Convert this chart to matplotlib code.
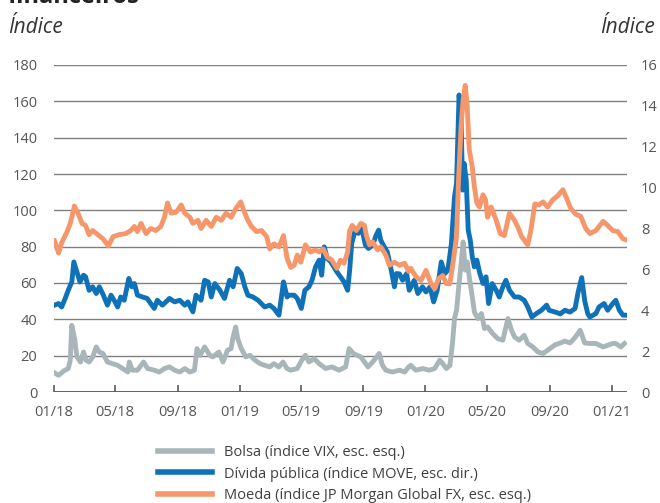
import matplotlib
matplotlib.use('Agg')
import matplotlib.pyplot as plt
import matplotlib.dates as mdates
from matplotlib.lines import Line2D
import pandas as pd

plt.rcParams['font.family'] = ['Open Sans', 'DejaVu Sans']

# Bolsa: VIX (left scale)
vix_dates = [
    '2018-01-02', '2018-01-10', '2018-01-20', '2018-01-29', '2018-02-02', '2018-02-05', '2018-02-11',
    '2018-02-15', '2018-02-22', '2018-02-28', '2018-03-05', '2018-03-11', '2018-03-18', '2018-03-25',
    '2018-03-31', '2018-04-07', '2018-04-16', '2018-04-26', '2018-05-06', '2018-05-16', '2018-05-26',
    '2018-05-29', '2018-06-04', '2018-06-14', '2018-06-26', '2018-07-04', '2018-07-17', '2018-07-27',
    '2018-08-06', '2018-08-16', '2018-08-26', '2018-09-05', '2018-09-15', '2018-09-25', '2018-10-04',
    '2018-10-09', '2018-10-15', '2018-10-24', '2018-11-03', '2018-11-09', '2018-11-21', '2018-11-29',
    '2018-12-08', '2018-12-15', '2018-12-19', '2018-12-24', '2018-12-28', '2019-01-04', '2019-01-13',
    '2019-01-21', '2019-01-31', '2019-02-10', '2019-02-19', '2019-03-01', '2019-03-09', '2019-03-19',
    '2019-03-27', '2019-04-04', '2019-04-11', '2019-04-24', '2019-05-03', '2019-05-10', '2019-05-17',
    '2019-05-27', '2019-06-06', '2019-06-19', '2019-07-01', '2019-07-15', '2019-07-28', '2019-08-04',
    '2019-08-12', '2019-08-20', '2019-08-27', '2019-09-03', '2019-09-10', '2019-09-19', '2019-09-27',
    '2019-10-02', '2019-10-08', '2019-10-15', '2019-10-28', '2019-11-11', '2019-11-21', '2019-11-29',
    '2019-12-03', '2019-12-13', '2019-12-27', '2020-01-08', '2020-01-19', '2020-01-29', '2020-02-04',
    '2020-02-11', '2020-02-18', '2020-02-23', '2020-02-27', '2020-03-02', '2020-03-07', '2020-03-11',
    '2020-03-15', '2020-03-19', '2020-03-23', '2020-03-27', '2020-04-02', '2020-04-06', '2020-04-13',
    '2020-04-20', '2020-04-26', '2020-05-02', '2020-05-12', '2020-05-22', '2020-06-01', '2020-06-11',
    '2020-06-18', '2020-06-24', '2020-07-03', '2020-07-13', '2020-07-20', '2020-07-30', '2020-08-09',
    '2020-08-19', '2020-08-28', '2020-09-12', '2020-09-22', '2020-10-01', '2020-10-11', '2020-10-21',
    '2020-10-31', '2020-11-09', '2020-11-19', '2020-12-01', '2020-12-15', '2020-12-24', '2021-01-03',
    '2021-01-09', '2021-01-19', '2021-01-26',
]
vix_values = [
    10.5, 9.2, 11.6, 12.9, 17.5, 36.7, 28.5,
    19.3, 16.5, 22.0, 17.5, 16.5, 19.3, 24.8,
    22.0, 21.2, 16.5, 15.6, 14.7, 12.9, 11.0,
    16.5, 12.0, 12.0, 16.5, 12.9, 12.0, 11.0,
    12.9, 13.8, 12.0, 11.0, 12.9, 11.0, 12.0,
    23.9, 20.2, 24.8, 20.2, 19.3, 22.0, 16.5,
    23.0, 23.9, 30.3, 35.8, 29.4, 23.9, 19.3,
    20.2, 17.5, 15.6, 14.7, 13.8, 15.6, 13.8,
    16.5, 12.9, 12.0, 12.9, 17.5, 20.2, 16.5,
    18.4, 15.6, 12.9, 13.8, 12.0, 13.8, 23.9,
    21.2, 20.2, 19.3, 16.5, 13.8, 16.5, 19.3,
    21.2, 15.0, 12.0, 11.0, 12.0, 11.0, 13.8,
    14.7, 12.0, 12.9, 12.0, 12.9, 17.5, 15.6,
    12.9, 14.7, 26.7, 40.4, 45.0, 59.7, 70.7,
    82.6, 67.1, 71.6, 63.4, 52.3, 44.1, 40.4,
    43.2, 34.9, 35.8, 32.2, 29.4, 28.5, 40.4,
    34.0, 30.3, 28.5, 31.2, 26.7, 24.8, 22.0,
    21.2, 23.0, 26.0, 27.0, 28.0, 27.0, 30.0,
    34.0, 27.0, 26.7, 26.7, 24.8, 25.7, 26.7,
    26.7, 24.8, 26.7,
]

# Divida publica: MOVE (left scale)
move_dates = [
    '2018-01-02', '2018-01-10', '2018-01-16', '2018-01-23', '2018-01-29', '2018-02-05', '2018-02-09',
    '2018-02-15', '2018-02-21', '2018-02-28', '2018-03-04', '2018-03-11', '2018-03-18', '2018-03-25',
    '2018-03-31', '2018-04-08', '2018-04-16', '2018-04-23', '2018-05-01', '2018-05-06', '2018-05-12',
    '2018-05-19', '2018-05-28', '2018-06-03', '2018-06-08', '2018-06-14', '2018-06-24', '2018-07-03',
    '2018-07-17', '2018-07-23', '2018-08-02', '2018-08-12', '2018-08-16', '2018-08-26', '2018-09-05',
    '2018-09-15', '2018-09-21', '2018-10-01', '2018-10-07', '2018-10-17', '2018-10-24', '2018-10-31',
    '2018-11-06', '2018-11-13', '2018-11-23', '2018-12-02', '2018-12-12', '2018-12-19', '2018-12-27',
    '2019-01-04', '2019-01-11', '2019-01-17', '2019-01-27', '2019-02-06', '2019-02-19', '2019-03-01',
    '2019-03-09', '2019-03-19', '2019-03-28', '2019-04-04', '2019-04-08', '2019-04-18', '2019-04-24',
    '2019-05-02', '2019-05-09', '2019-05-17', '2019-05-23', '2019-05-30', '2019-06-06', '2019-06-11',
    '2019-06-16', '2019-06-22', '2019-06-29', '2019-07-05', '2019-07-11', '2019-07-18', '2019-07-25',
    '2019-08-01', '2019-08-05', '2019-08-09', '2019-08-16', '2019-08-22', '2019-08-29', '2019-09-05',
    '2019-09-11', '2019-09-19', '2019-09-26', '2019-10-01', '2019-10-05', '2019-10-12', '2019-10-18',
    '2019-10-25', '2019-11-01', '2019-11-05', '2019-11-11', '2019-11-17', '2019-11-25', '2019-11-30',
    '2019-12-10', '2019-12-17', '2019-12-26', '2020-01-02', '2020-01-10', '2020-01-17', '2020-01-24',
    '2020-02-01', '2020-02-08', '2020-02-14', '2020-02-21', '2020-02-27', '2020-03-02', '2020-03-07',
    '2020-03-11', '2020-03-14', '2020-03-17', '2020-03-21', '2020-03-25', '2020-03-29', '2020-04-02',
    '2020-04-06', '2020-04-11', '2020-04-16', '2020-04-23', '2020-04-29', '2020-05-04', '2020-05-11',
    '2020-05-19', '2020-05-25', '2020-06-01', '2020-06-07', '2020-06-14', '2020-06-24', '2020-07-03',
    '2020-07-13', '2020-07-20', '2020-07-28', '2020-08-06', '2020-08-16', '2020-08-26', '2020-08-31',
    '2020-09-12', '2020-09-22', '2020-10-01', '2020-10-11', '2020-10-21', '2020-10-27', '2020-11-03',
    '2020-11-09', '2020-11-15', '2020-11-19', '2020-12-01', '2020-12-07', '2020-12-17', '2020-12-24',
    '2021-01-03', '2021-01-09', '2021-01-16', '2021-01-23', '2021-01-29',
]
move_values = [
    47.8, 48.7, 46.8, 51.5, 56.0, 60.6, 71.6,
    66.1, 60.6, 64.3, 63.4, 56.0, 57.9, 54.2,
    57.9, 53.3, 47.8, 53.3, 49.6, 46.8, 52.3,
    50.5, 62.5, 57.9, 59.7, 53.3, 52.3, 51.5,
    46.0, 50.5, 47.8, 50.5, 51.5, 49.6, 50.5,
    47.8, 49.6, 44.1, 53.3, 50.5, 61.5, 60.6,
    52.3, 59.7, 56.0, 51.5, 61.5, 57.9, 68.0,
    65.2, 57.9, 53.3, 52.3, 50.5, 46.8, 47.8,
    46.0, 42.3, 60.6, 52.3, 53.3, 53.3, 51.5,
    46.0, 56.0, 57.9, 61.5, 68.9, 72.6, 64.3,
    79.9, 73.5, 71.6, 68.9, 66.1, 63.4, 60.6,
    56.0, 67.1, 81.8, 89.1, 87.3, 90.0, 80.8,
    79.0, 80.8, 86.3, 89.1, 83.6, 79.9, 77.1,
    68.0, 57.9, 65.2, 65.0, 61.5, 65.2, 56.0,
    61.5, 54.2, 57.9, 55.1, 57.9, 49.6, 56.0,
    71.6, 65.2, 67.1, 81.8, 107.4, 114.8, 163.5,
    149.7, 111.1, 125.8, 116.6, 89.1, 83.6, 74.4,
    68.9, 72.6, 66.1, 59.7, 63.4, 48.7, 59.7,
    56.0, 52.3, 57.9, 61.5, 56.0, 52.3, 52.3,
    50.5, 46.8, 41.3, 43.2, 45.0, 47.8, 45.0,
    44.0, 43.0, 45.0, 44.0, 46.0, 55.0, 63.0,
    50.0, 43.0, 41.3, 43.2, 46.8, 48.7, 45.0,
    48.7, 50.5, 45.0, 42.3, 42.3,
]

# Moeda: JP Morgan Global FX volatility (right scale)
fx_dates = [
    '2018-01-02', '2018-01-10', '2018-01-16', '2018-01-26', '2018-02-02', '2018-02-10', '2018-02-18',
    '2018-02-25', '2018-03-04', '2018-03-11', '2018-03-18', '2018-03-28', '2018-04-07', '2018-04-18',
    '2018-04-27', '2018-05-09', '2018-05-22', '2018-06-01', '2018-06-08', '2018-06-14', '2018-06-21',
    '2018-07-01', '2018-07-10', '2018-07-20', '2018-07-30', '2018-08-06', '2018-08-12', '2018-08-19',
    '2018-08-29', '2018-09-08', '2018-09-15', '2018-09-25', '2018-10-01', '2018-10-11', '2018-10-17',
    '2018-10-27', '2018-11-06', '2018-11-16', '2018-11-26', '2018-12-05', '2018-12-15', '2018-12-25',
    '2019-01-03', '2019-01-11', '2019-01-17', '2019-01-24', '2019-02-03', '2019-02-13', '2019-02-23',
    '2019-03-01', '2019-03-09', '2019-03-19', '2019-03-28', '2019-04-04', '2019-04-11', '2019-04-18',
    '2019-04-24', '2019-05-01', '2019-05-10', '2019-05-20', '2019-05-30', '2019-06-06', '2019-06-14',
    '2019-06-22', '2019-07-01', '2019-07-11', '2019-07-18', '2019-07-25', '2019-08-01', '2019-08-05',
    '2019-08-10', '2019-08-18', '2019-08-27', '2019-09-03', '2019-09-07', '2019-09-13', '2019-09-19',
    '2019-09-29', '2019-10-05', '2019-10-15', '2019-10-22', '2019-11-01', '2019-11-11', '2019-11-21',
    '2019-11-29', '2019-12-03', '2019-12-13', '2019-12-23', '2020-01-02', '2020-01-12', '2020-01-19',
    '2020-01-27', '2020-02-04', '2020-02-11', '2020-02-18', '2020-02-24', '2020-03-02', '2020-03-06',
    '2020-03-11', '2020-03-15', '2020-03-19', '2020-03-23', '2020-03-27', '2020-04-02', '2020-04-06',
    '2020-04-11', '2020-04-16', '2020-04-23', '2020-04-28', '2020-05-02', '2020-05-09', '2020-05-19',
    '2020-05-27', '2020-06-04', '2020-06-14', '2020-06-24', '2020-06-30', '2020-07-08', '2020-07-20',
    '2020-07-26', '2020-08-03', '2020-08-11', '2020-08-19', '2020-08-28', '2020-09-07', '2020-09-17',
    '2020-09-27', '2020-10-04', '2020-10-12', '2020-10-22', '2020-11-01', '2020-11-11', '2020-11-19',
    '2020-12-01', '2020-12-15', '2020-12-24', '2021-01-03', '2021-01-13', '2021-01-23', '2021-01-29',
]
fx_values = [
    7.4, 6.8, 7.3, 7.8, 8.25, 9.1, 8.7,
    8.25, 8.15, 7.7, 7.9, 7.7, 7.5, 7.15,
    7.6, 7.7, 7.75, 7.9, 8.1, 7.85, 8.25,
    7.75, 8.0, 7.9, 8.1, 8.55, 9.25, 8.75,
    8.8, 9.15, 8.75, 8.55, 8.25, 8.4, 8.0,
    8.4, 8.1, 8.55, 8.4, 8.75, 8.55, 9.0,
    9.3, 8.75, 8.4, 8.1, 7.85, 7.9, 7.6,
    7.0, 7.25, 7.1, 7.65, 6.55, 6.1, 6.2,
    6.7, 6.35, 7.2, 6.85, 6.95, 6.85, 7.0,
    6.6, 6.45, 6.05, 6.45, 6.3, 6.85, 7.9,
    8.15, 7.9, 8.25, 8.15, 7.65, 7.2, 7.35,
    6.95, 7.1, 6.7, 6.2, 6.35, 6.2, 6.3,
    5.9, 6.05, 5.65, 5.45, 5.95, 5.3, 5.05,
    5.55, 5.7, 5.3, 5.3, 6.3, 7.6, 10.4,
    13.0, 14.3, 15.0, 14.0, 11.85, 11.0, 10.05,
    9.25, 9.05, 9.65, 9.4, 8.55, 9.05, 8.4,
    7.75, 7.65, 8.75, 8.4, 8.1, 7.6, 7.2,
    7.9, 9.2, 9.15, 9.3, 9.05, 9.4, 9.6,
    9.9, 9.5, 9.0, 8.7, 8.6, 8.0, 7.75,
    7.9, 8.35, 8.15, 7.9, 7.85, 7.5, 7.45,
]

month_ticks = ['2018-01-01', '2018-05-01', '2018-09-01', '2019-01-01', '2019-05-01',
               '2019-09-01', '2020-01-01', '2020-05-01', '2020-09-01', '2021-01-01']
left_ticks = [0, 20, 40, 60, 80, 100, 120, 140, 160, 180]
right_ticks = [0, 2, 4, 6, 8, 10, 12, 14, 16]
legend_labels = ['Bolsa (índice VIX, esc. esq.)',
                 'Dívida pública (índice MOVE, esc. dir.)',
                 'Moeda (índice JP Morgan Global FX, esc. esq.)']

c_vix = '#a8b5b9'
c_move = '#0f71b8'
c_fx = '#f5976b'
c_text = '#555555'
lw = 3.5

fig = plt.figure(figsize=(6.6, 5.03), dpi=100)
ax = fig.add_axes([54 / 660, 1 - 392 / 503, 573 / 660, 327 / 503])
ax2 = ax.twinx()

ax.plot(pd.to_datetime(vix_dates), vix_values, color=c_vix, lw=lw, solid_joinstyle='round')
ax.plot(pd.to_datetime(move_dates), move_values, color=c_move, lw=lw, solid_joinstyle='round')
ax2.plot(pd.to_datetime(fx_dates), fx_values, color=c_fx, lw=lw, solid_joinstyle='round')

ax.set_xlim(pd.Timestamp('2018-01-01'), pd.Timestamp('2021-01-31'))
ax.set_ylim(0, 180)
ax2.set_ylim(0, 16)

ax.set_yticks(left_ticks)
ax2.set_yticks(right_ticks)
for a in (ax, ax2):
    for s in ('top', 'left', 'right', 'bottom'):
        a.spines[s].set_visible(False)

ax.yaxis.grid(True, color='#808080', lw=1.0)
ax.set_axisbelow(True)
ax.axhline(0, color='#5a5a5a', lw=1.3, zorder=1)

ax.set_xticks(pd.to_datetime(month_ticks))
ax.xaxis.set_major_formatter(mdates.DateFormatter('%m/%y'))
ax.tick_params(axis='x', direction='in', length=5, width=1.2, color='#5a5a5a',
               labelsize=10.5, labelcolor=c_text, pad=9)
ax.tick_params(axis='y', length=0, labelsize=10.5, labelcolor=c_text, pad=12)
ax2.tick_params(axis='y', length=0, labelsize=10.5, labelcolor=c_text, pad=10)

fig.text(8 / 660, 1 - 33 / 503, 'Índice', fontsize=15, style='italic', color='#333333', va='baseline')
fig.text(655 / 660, 1 - 33 / 503, 'Índice', fontsize=15, style='italic', color='#333333',
         va='baseline', ha='right')
fig.text(8 / 660, 1 - 3 / 503, 'financeiros', fontsize=17, weight='bold', color='#222222', va='baseline')

handles = [Line2D([], [], color=c, lw=4) for c in (c_vix, c_move, c_fx)]
fig.legend(handles, legend_labels, loc='upper left', bbox_to_anchor=(158 / 660, 1 - 445 / 503),
           frameon=False, fontsize=10.5, handlelength=3.7, handletextpad=0.8, labelspacing=0.45,
           borderpad=0, borderaxespad=0, labelcolor='#404040')

fig.savefig('out.png', dpi=100)
